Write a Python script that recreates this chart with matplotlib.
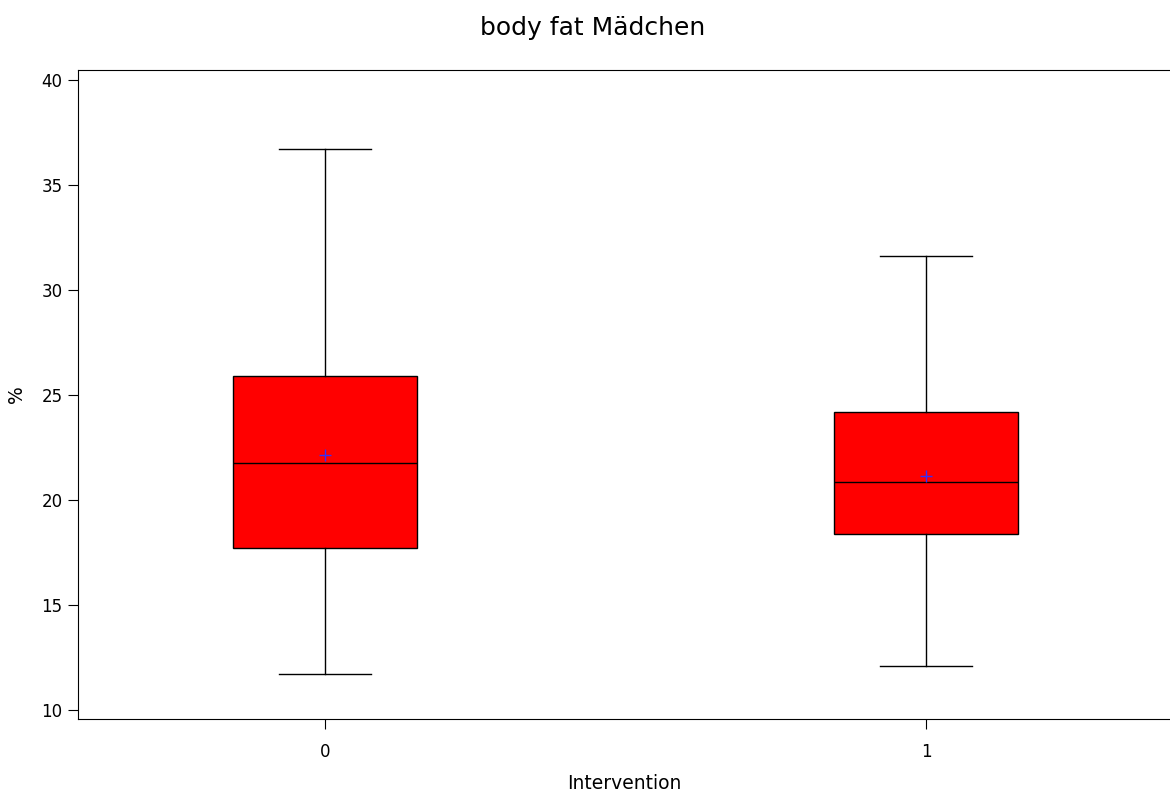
import matplotlib
matplotlib.use("Agg")
import matplotlib.pyplot as plt

# values
groups = ["0", "1"]
whislo = [11.7, 12.1]
q1 = [17.7, 18.4]
med = [21.75, 20.85]
q3 = [25.9, 24.2]
whishi = [36.7, 31.6]
means = [22.15, 21.15]

stats = []
for i in range(len(groups)):
    stats.append({"label": groups[i], "whislo": whislo[i], "q1": q1[i], "med": med[i],
                  "q3": q3[i], "whishi": whishi[i], "mean": means[i], "fliers": []})

plt.rcParams['font.family'] = ['DejaVu Sans']

fig = plt.figure(figsize=(11.7, 7.99), dpi=100)
ax = fig.add_axes([78 / 1170, 80 / 799, 1 - 78 / 1170, (719 - 69.5) / 799])

ax.bxp(stats, positions=[0, 1], widths=0.305, patch_artist=True, showmeans=True,
       boxprops=dict(facecolor="#ff0000", edgecolor="black", linewidth=1),
       medianprops=dict(color="black", linewidth=1),
       whiskerprops=dict(color="black", linewidth=1),
       capprops=dict(color="black", linewidth=1), capwidths=0.153,
       meanprops=dict(marker="+", markeredgecolor="#3030ff", markersize=8, markeredgewidth=1))

ax.set_xlim(-0.411, 1.406)
ax.set_ylim(9.57, 40.5)
ax.set_yticks([10, 15, 20, 25, 30, 35, 40])
ax.set_xticks([0, 1])
ax.set_xticklabels(groups)
ax.spines['right'].set_visible(False)
ax.tick_params(labelsize=12, length=7.5, direction='out')
ax.tick_params(axis='x', pad=10)
ax.set_xlabel("Intervention", fontsize=13.5, labelpad=9)
ax.set_ylabel("%", fontsize=13.5, labelpad=11)
fig.text(593 / 1170, 0.965, "body fat Mädchen", fontsize=18, ha='center', va='center')

plt.savefig("out.png")
